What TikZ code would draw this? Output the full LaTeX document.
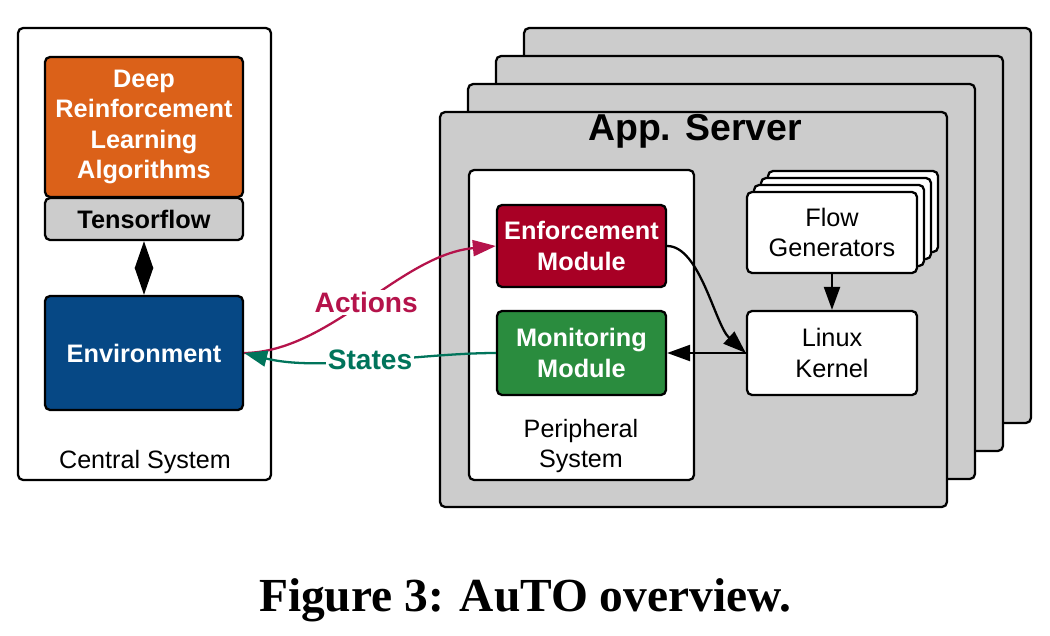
\documentclass[tikz,border=0pt]{standalone}
\usepackage{fontspec}
\setmainfont{Liberation Sans}
\newfontfamily\capfont{Liberation Serif}
\usetikzlibrary{arrows.meta,positioning}
\definecolor{drlorange}{HTML}{DB6119}
\definecolor{tfgray}{HTML}{CCCCCC}
\definecolor{envblue}{HTML}{064885}
\definecolor{enfred}{HTML}{A80025}
\definecolor{mongreen}{HTML}{2A8C3E}
\definecolor{actred}{HTML}{B5134B}
\definecolor{stateteal}{HTML}{00745B}

\begin{document}
\begin{tikzpicture}[x=0.02cm,y=-0.02cm]
    \tikzset{box/.style={draw, line width=1.3pt, rounded corners=0.1cm, align=center,
            inner sep=0pt, font=\fontsize{14.4}{17.3}\selectfont},
        boldbox/.style={box, text=white, font=\fontsize{14.4}{17.3}\selectfont\bfseries},
        server/.style={box, fill=tfgray, minimum width=10.14cm, minimum height=7.9cm},
        flowbox/.style={box, fill=white, minimum width=3.4cm, minimum height=1.62cm},
        label/.style={align=center, font=\fontsize{14.3}{17}\selectfont},
        link/.style={line width=1.3pt, -{Triangle[length=0.46cm,width=0.32cm]}}}
    \useasboundingbox (0,0) rectangle (1050,635);
    \node[box, fill=white, minimum width=5.06cm, minimum height=9.04cm] (central) at (144.5,254) {};
    \node[boldbox, fill=drlorange, minimum width=3.96cm, minimum height=2.8cm] (drl) at (144,127)
        {Deep\\Reinforcement\\Learning\\Algorithms};
    \node[boldbox, text=black, fill=tfgray, minimum width=3.96cm, minimum height=0.84cm] (tf) at (144,219)
        {Tensorflow};
    \node[boldbox, fill=envblue, minimum width=3.96cm, minimum height=2.28cm] (env) at (144,353)
        {Environment};
    \node[label] (cslabel) at (145,462) {Central System};
    \foreach \i in {3,2,1}
        \node[server] (srv\i) at ({693.5+28*\i},{309.5-28*\i}) {};
    \node[server] (srv) at (693.5,309.5) {};
    \node[font=\fontsize{21.3}{25}\selectfont\bfseries] (srvlabel) at (695,131) {App. Server};
    \node[box, fill=white, minimum width=4.5cm, minimum height=6.2cm] (periph) at (581.5,325) {};
    \node[boldbox, fill=enfred, minimum width=3.38cm, minimum height=1.64cm] (enf) at (581.5,246)
        {Enforcement\\Module};
    \node[boldbox, fill=mongreen, minimum width=3.38cm, minimum height=1.68cm] (mon) at (581.5,353)
        {Monitoring\\Module};
    \node[label] (pslabel) at (581,446) {Peripheral\\System};
    \foreach \i in {3,2,1}
        \node[flowbox] (fg\i) at ({832+7*\i},{232.5-7*\i}) {};
    \node[flowbox] (fg) at (832,232.5) {Flow\\Generators};
    \node[box, fill=white, minimum width=3.4cm, minimum height=1.68cm] (linux) at (832,353)
        {Linux\\Kernel};
    \draw[line width=1.3pt, {Triangle[length=0.54cm,width=0.36cm]}-{Triangle[length=0.54cm,width=0.36cm]}]
        (tf) -- (env);
    \draw[link] (fg) -- (linux);
    \draw[link] (linux.west) -- (mon.east);
    \draw[link] (enf.east) .. controls (700,246) and (715,325) .. (linux.west);
    \draw[link, actred] (env.east) .. controls (330,352) and (400,255) .. (enf.west)
        node[pos=0.5, fill=white, inner sep=1pt, font=\fontsize{16}{19}\selectfont\bfseries] (act) {Actions};
    \draw[link, stateteal] (mon.west) .. controls (420,353) and (320,372) .. (env.east)
        node[pos=0.5, fill=white, inner sep=1pt, font=\fontsize{16}{19}\selectfont\bfseries] (st) {States};
    \node[font=\capfont\fontsize{27}{32}\selectfont\bfseries] (caption) at (525,600) {Figure 3: AuTO overview.};
\end{tikzpicture}
\end{document}
